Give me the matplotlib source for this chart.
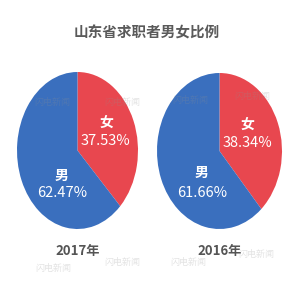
import matplotlib
matplotlib.use("Agg")
import matplotlib.pyplot as plt

plt.rcParams['font.family'] = ['Noto Sans CJK SC', 'DejaVu Sans']

title = "山东省求职者男女比例"
years = ["2017年", "2016年"]
categories = ["女", "男"]
female = [37.53, 38.34]
male = [62.47, 61.66]
colors = ["#e8474f", "#3a6fbe"]

W = H = 295
fig = plt.figure(figsize=(W / 100, H / 100), dpi=100)
fig.patch.set_facecolor("white")

def px_axes(x0, y0, x1, y1):
    return fig.add_axes([x0 / W, 1 - y1 / H, (x1 - x0) / W, (y1 - y0) / H])

fig.text(147 / W, 1 - 33 / H, title, fontsize=10.5, fontweight="bold",
         color="#5a5a5a", ha="center", va="center")

boxes = [(17, 72, 138, 229), (157, 73, 282, 229)]
label_pos = [((0.47, 0.35), (0.47, 0.12), (-0.26, -0.32), (-0.26, -0.54)),
             ((0.45, 0.33), (0.45, 0.10), (-0.28, -0.28), (-0.28, -0.54))]

for i, (box, yr) in enumerate(zip(boxes, years)):
    ax = px_axes(*box)
    vals = [female[i], male[i]]
    ax.pie(vals, colors=colors, startangle=90, counterclock=False,
           wedgeprops=dict(linewidth=0))
    ax.set_aspect('auto')
    ax.set_xlim(-1, 1)
    ax.set_ylim(-1, 1)
    ax.axis('off')
    (fx1, fy1), (fx2, fy2), (mx1, my1), (mx2, my2) = label_pos[i]
    ax.text(fx1, fy1, categories[0], color="white", fontsize=10, fontweight="bold",
            ha="center", va="center")
    ax.text(fx2, fy2, f"{female[i]:.2f}%", color="white", fontsize=10.5,
            ha="center", va="center")
    ax.text(mx1, my1, categories[1], color="white", fontsize=10, fontweight="bold",
            ha="center", va="center")
    ax.text(mx2, my2, f"{male[i]:.2f}%", color="white", fontsize=10.5,
            ha="center", va="center")
    cx = (box[0] + box[2]) / 2
    fig.text(cx / W, 1 - 251 / H, yr, fontsize=9.5, fontweight="bold",
             color="#555555", ha="center", va="center")

# faint watermarks
wm = [(52, 103), (122, 103), (190, 100), (252, 97), (53, 268), (122, 263), (188, 262), (256, 255)]
for (x, y) in wm:
    fig.text(x / W, 1 - y / H, "闪电新闻", fontsize=6.5, color="#909090", alpha=0.25,
             ha="center", va="center")

fig.savefig("out.png", dpi=100, facecolor="white")
